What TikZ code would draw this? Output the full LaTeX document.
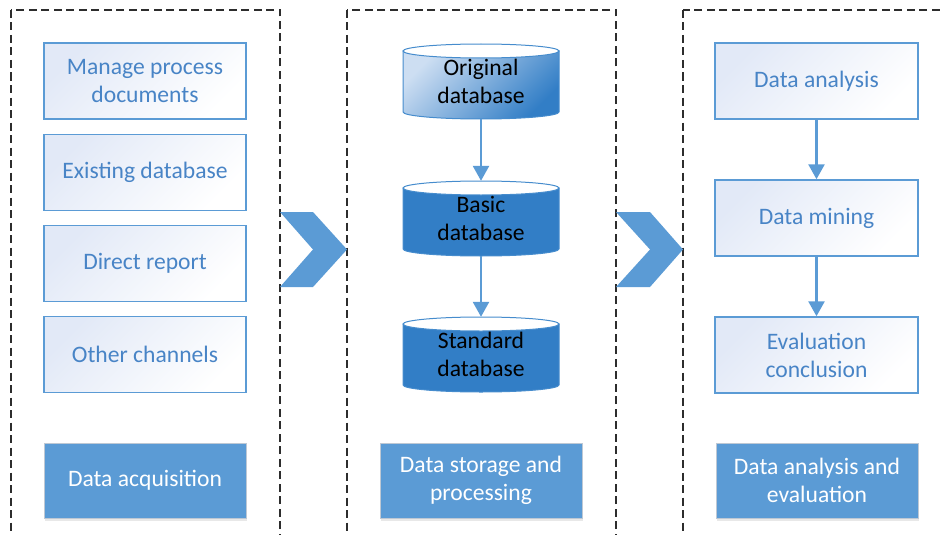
\documentclass[tikz,border=0pt]{standalone}
\usepackage{fontspec}
\setmainfont{Carlito}
\usetikzlibrary{arrows.meta,shadows}
\definecolor{boxline}{RGB}{91,155,213}
\definecolor{boxtext}{RGB}{72,132,198}
\definecolor{boxshade}{RGB}{226,233,247}
\definecolor{darkfill}{RGB}{91,155,213}
\definecolor{darkline}{RGB}{190,200,212}
\definecolor{dbfill}{RGB}{50,126,198}
\definecolor{dblight}{RGB}{205,222,242}
\definecolor{dbline}{RGB}{70,140,205}
\definecolor{dashgray}{RGB}{45,45,45}
\tikzset{
  every node/.style = {font = \fontsize{23.6}{28}\selectfont, align = center},
  lightbox/.style = {draw = boxline, line width = 1.5pt, text = boxtext,
    top color = boxshade, bottom color = white, shading angle = 45,
    minimum width = 202pt, minimum height = 76pt, inner sep = 0pt},
  darkbox/.style = {draw = darkline, line width = .8pt, fill = darkfill, text = white,
    drop shadow = {opacity = .18, shadow xshift = 1pt, shadow yshift = -3pt},
    minimum width = 202pt, minimum height = 75pt, inner sep = 0pt},
  dbtext/.style = {minimum width = 156pt, minimum height = 75pt, inner sep = 0pt},
  dbedge/.style = {draw = dbline, line width = 1pt},
  container/.style = {draw = dashgray, line width = 1.2pt, dash pattern = on 8pt off 4.5pt},
  flow/.style = {draw = boxline, line width = 2.6pt,
    -{Triangle[width = 16pt, length = 15pt]}},
  chevron/.style = {fill = darkfill}
}
\begin{document}
\begin{tikzpicture}[x = 1pt, y = -1pt]
  \clip (0,0) rectangle (942,535);
  \draw [container] (11,10) rectangle (280,560);
  \draw [container] (347,10) rectangle (616,560);
  \draw [container] (683,10) rectangle (980,560);

  \fill [chevron] (280,212) -- (313,212) -- (347,249.5) -- (313,287)
    -- (280,287) -- (313,249.5) -- cycle;
  \fill [chevron] (616,212) -- (650,212) -- (683,249.5) -- (650,287)
    -- (616,287) -- (650,249.5) -- cycle;

  \node [lightbox] (docs) at (145,81) {Manage process\\documents};
  \node [lightbox] (exist) at (145,172.5) {Existing database};
  \node [lightbox] (report) at (145,263.5) {Direct report};
  \node [lightbox] (other) at (145,354.5) {Other channels};
  \node [darkbox] (acq) at (145,480.5) {Data acquisition};

  \shade [dbedge, top color = dblight, bottom color = dbfill, shading angle = 45]
    (403,51) -- (403,112) arc [start angle = 180, end angle = 0,
    x radius = 78, y radius = 7] -- (559,51) -- cycle;
  \draw [dbedge, fill = white] (481,51) ellipse [x radius = 78, y radius = 7];
  \node [dbtext] (orig) at (481,81.5) {Original\\database};

  \draw [dbedge, fill = dbfill] (403,188) -- (403,249) arc [start angle = 180,
    end angle = 0, x radius = 78, y radius = 7] -- (559,188) -- cycle;
  \draw [dbedge, fill = white] (481,188) ellipse [x radius = 78, y radius = 7];
  \node [dbtext] (basic) at (481,218.5) {Basic\\database};

  \draw [dbedge, fill = dbfill] (403,324) -- (403,385) arc [start angle = 180,
    end angle = 0, x radius = 78, y radius = 7] -- (559,324) -- cycle;
  \draw [dbedge, fill = white] (481,324) ellipse [x radius = 78, y radius = 7];
  \node [dbtext] (std) at (481,354.5) {Standard\\database};

  \node [darkbox] (store) at (481,480.5) {Data storage and\\processing};

  \node [lightbox, minimum width = 203pt] (anal) at (816.5,81) {Data analysis};
  \node [lightbox, minimum width = 203pt] (mine) at (816.5,218) {Data mining};
  \node [lightbox, minimum width = 203pt] (concl) at (816.5,355) {Evaluation\\conclusion};
  \node [darkbox] (eval) at (817,480.5) {Data analysis and\\evaluation};

  \draw [flow] (orig) -- (basic);
  \draw [flow] (basic) -- (std);
  \draw [flow] (anal) -- (mine);
  \draw [flow] (mine) -- (concl);
\end{tikzpicture}
\end{document}
